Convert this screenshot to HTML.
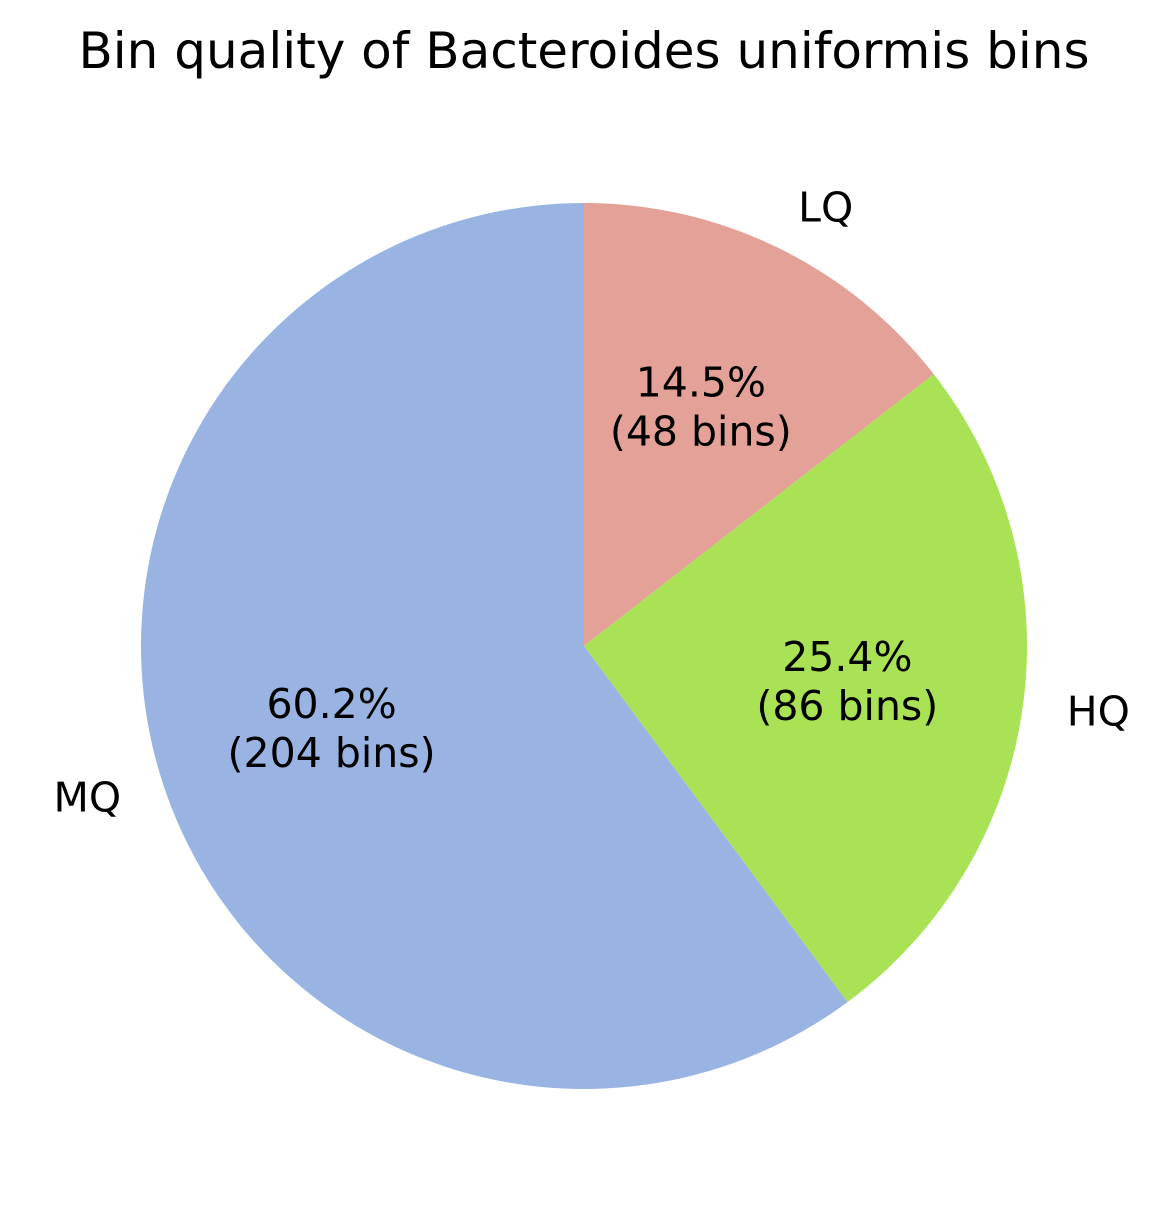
<!DOCTYPE html>
<html><head><meta charset="utf-8"><style>
html,body{margin:0;padding:0;background:#fff;}
svg{display:block;font-family:"DejaVu Sans","Liberation Sans",sans-serif;}
</style></head><body>
<svg id="chart" width="1168" height="1231" viewBox="0 0 1168 1231">
<text x="584" y="68" font-size="50" text-anchor="middle" fill="#000">Bin quality of Bacteroides uniformis bins</text>
<g id="slices"></g>
<g id="labels"></g>
</svg>
<script>
const categories = ["LQ", "HQ", "MQ"];
const percents = [14.5, 25.4, 60.2];
const bins = [48, 86, 204];
const colors = ["#e3a197", "#a9e355", "#99b4e3"];

const cx = 584, cy = 646, R = 443;
const NS = "http://www.w3.org/2000/svg";
const gS = document.getElementById("slices");
const gL = document.getElementById("labels");
const total = percents.reduce((a, b) => a + b, 0);
function pt(angDeg, r) { const a = angDeg * Math.PI / 180; return [cx + r * Math.sin(a), cy - r * Math.cos(a)]; }
let start = 0;
percents.forEach((p, i) => {
  const sweep = p / total * 360;
  const end = start + sweep;
  const [x1, y1] = pt(start, R), [x2, y2] = pt(end, R);
  const path = document.createElementNS(NS, "path");
  path.setAttribute("d", `M${cx},${cy} L${x1},${y1} A${R},${R} 0 ${sweep > 180 ? 1 : 0} 1 ${x2},${y2} Z`);
  path.setAttribute("fill", colors[i]);
  
  
  gS.appendChild(path);
  const mid = start + sweep / 2;
  const [lx, ly] = pt(mid, R * 1.1);
  const t = document.createElementNS(NS, "text");
  t.setAttribute("x", lx); t.setAttribute("y", ly + 13);
  t.setAttribute("font-size", "41");
  t.setAttribute("text-anchor", lx >= cx ? "start" : "end");
  t.textContent = categories[i];
  
  
  gL.appendChild(t);
  const [px, py] = pt(mid, R * 0.6);
  const t2 = document.createElementNS(NS, "text");
  t2.setAttribute("x", px); t2.setAttribute("text-anchor", "middle"); t2.setAttribute("font-size", "41");
  
  
  const s1 = document.createElementNS(NS, "tspan");
  s1.setAttribute("x", px); s1.setAttribute("y", py - 11); s1.textContent = p.toFixed(1) + "%";
  const s2 = document.createElementNS(NS, "tspan");
  s2.setAttribute("x", px); s2.setAttribute("y", py + 38); s2.textContent = "(" + bins[i] + " bins)";
  t2.appendChild(s1); t2.appendChild(s2);
  gL.appendChild(t2);
  start = end;
});
</script>
</body></html>
